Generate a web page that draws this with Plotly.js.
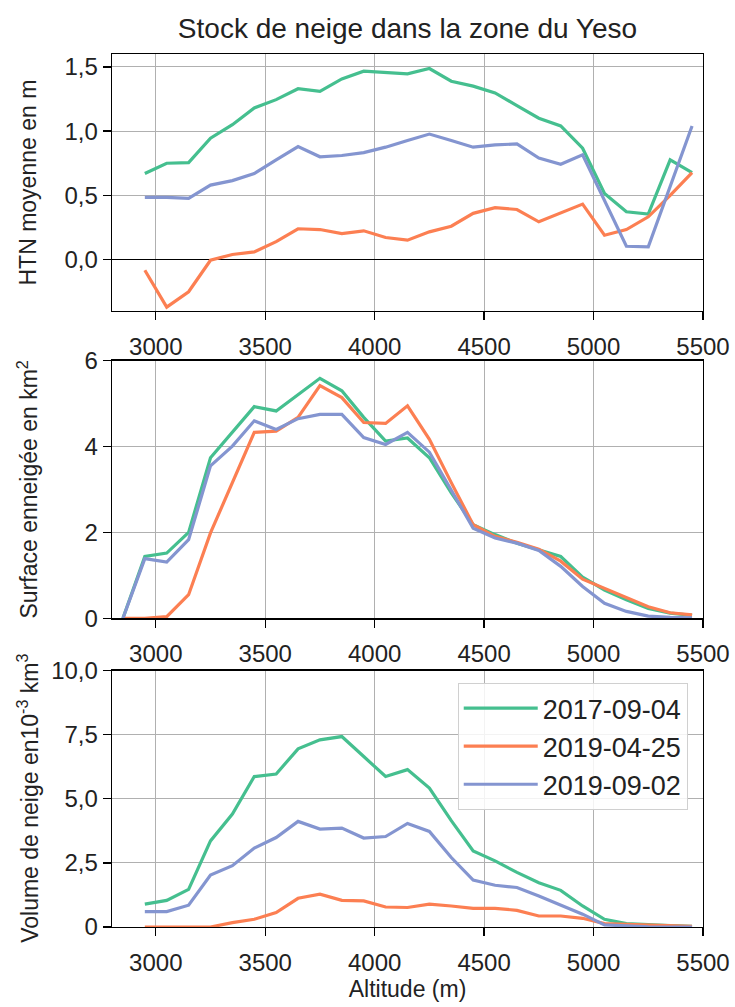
<!DOCTYPE html>
<html>
<head>
<meta charset="utf-8">
<script src="https://cdn.plot.ly/plotly-3.0.1.min.js"></script>
<style>html,body{margin:0;padding:0;background:#fff;}#chart{width:735px;height:1007px;}</style>
</head>
<body>
<div id="chart"></div>
<script>
// Altitudes (m)
const altitudes = [2950,3050,3150,3250,3350,3450,3550,3650,3750,3850,3950,4050,4150,4250,4350,4450,4550,4650,4750,4850,4950,5050,5150,5250,5350,5450];
const altitudesSurface = [2850,2950,3050,3150,3250,3350,3450,3550,3650,3750,3850,3950,4050,4150,4250,4350,4450,4550,4650,4750,4850,4950,5050,5150,5250,5350,5450];

const seriesNames = ["2017-09-04", "2019-04-25", "2019-09-02"];

// HTN moyenne (m)
const htn_2017_09_04 = [0.67,0.75,0.755,0.945,1.05,1.18,1.245,1.33,1.31,1.406,1.466,1.453,1.445,1.487,1.388,1.35,1.297,1.198,1.10,1.04,0.867,0.515,0.372,0.354,0.776,0.677];
const htn_2019_04_25 = [-0.083,-0.37,-0.25,-0.005,0.04,0.06,0.14,0.24,0.234,0.203,0.224,0.172,0.151,0.216,0.26,0.36,0.404,0.39,0.294,0.36,0.432,0.19,0.234,0.333,0.50,0.677];
const htn_2019_09_02 = [0.484,0.484,0.477,0.58,0.615,0.67,0.776,0.88,0.80,0.81,0.833,0.875,0.927,0.977,0.927,0.875,0.893,0.90,0.79,0.742,0.815,0.46,0.104,0.099,0.57,1.04];

// Surface enneigée (km²)
const surf_2017_09_04 = [0,1.44,1.52,2.0,3.74,4.33,4.93,4.83,5.2,5.59,5.30,4.68,4.13,4.2,3.74,2.92,2.18,1.95,1.75,1.6,1.44,0.96,0.66,0.43,0.23,0.12,0.07];
const surf_2019_04_25 = [0,0,0.04,0.55,1.99,3.16,4.33,4.36,4.68,5.42,5.14,4.56,4.54,4.95,4.17,3.16,2.18,1.91,1.77,1.61,1.33,0.91,0.70,0.47,0.27,0.13,0.08];
const surf_2019_09_02 = [0,1.39,1.31,1.83,3.55,4.01,4.60,4.40,4.65,4.75,4.75,4.21,4.05,4.33,3.87,3.0,2.10,1.87,1.75,1.58,1.21,0.74,0.35,0.16,0.05,0.02,0.01];

// Volume de neige (10^-3 km³)
const vol_2017_09_04 = [0.89,1.04,1.47,3.36,4.41,5.87,5.97,6.95,7.30,7.43,6.65,5.87,6.14,5.42,4.15,2.97,2.58,2.13,1.73,1.43,0.82,0.30,0.13,0.08,0.05,0.03];
const vol_2019_04_25 = [0,0,0,0,0.17,0.30,0.56,1.12,1.28,1.04,1.02,0.78,0.76,0.89,0.82,0.73,0.73,0.65,0.43,0.43,0.34,0.13,0.10,0.08,0.05,0.03];
const vol_2019_09_02 = [0.60,0.60,0.85,2.03,2.39,3.08,3.49,4.12,3.82,3.86,3.47,3.53,4.04,3.73,2.71,1.83,1.63,1.54,1.21,0.86,0.50,0.08,0.03,0.01,0,0];

const xTickVals = [3000,3500,4000,4500,5000,5500];
const volTickVals = [0,2.5,5,7.5,10];
const volTickText = ["0","2,5","5,0","7,5","10,0"];

const colors = ["#45bf8f", "#fc7f52", "#8495d0"];
const FONT = "Liberation Sans, Arial, Helvetica, sans-serif";

function line(x, y, i, xa, ya, showlegend) {
  return {
    x: x, y: y, type: "scatter", mode: "lines",
    name: seriesNames[i], legendgroup: seriesNames[i], showlegend: showlegend,
    line: {color: colors[i], width: 3.2},
    xaxis: xa, yaxis: ya
  };
}

const traces = [
  line(altitudes, htn_2017_09_04, 0, "x", "y", false),
  line(altitudes, htn_2019_04_25, 1, "x", "y", false),
  line(altitudes, htn_2019_09_02, 2, "x", "y", false),
  line(altitudesSurface, surf_2017_09_04, 0, "x2", "y2", false),
  line(altitudesSurface, surf_2019_04_25, 1, "x2", "y2", false),
  line(altitudesSurface, surf_2019_09_02, 2, "x2", "y2", false),
  line(altitudes, vol_2017_09_04, 0, "x3", "y3", true),
  line(altitudes, vol_2019_04_25, 1, "x3", "y3", true),
  line(altitudes, vol_2019_09_02, 2, "x3", "y3", true)
];

const tickFont = {family: FONT, size: 24, color: "#222"};
function xax(anchor) {
  return {
    anchor: anchor, range: [2800, 5500], tickvals: xTickVals,
    showgrid: true, gridcolor: "#b0b0b0", gridwidth: 1,
    showline: true, linecolor: "#000", linewidth: 1.3, mirror: true,
    ticks: "outside", ticklen: 8, tickwidth: 1.3, tickcolor: "#000",
    ticklabelstandoff: 6,
    tickfont: tickFont, zeroline: false
  };
}
function yax(anchor, domain) {
  return {
    anchor: anchor, domain: domain,
    showgrid: true, gridcolor: "#b0b0b0", gridwidth: 1,
    showline: true, linecolor: "#000", linewidth: 1.3, mirror: true,
    ticks: "outside", ticklen: 8, tickwidth: 1.3, tickcolor: "#000",
    tickfont: tickFont, zeroline: false
  };
}

const D1 = [0.7056, 1], D2 = [0.3536, 0.6487], D3 = [0, 0.2936];

const x1 = xax("y"), x2 = xax("y2"), x3 = xax("y3");
x3.title = {text: "Altitude (m)", font: {family: FONT, size: 23, color: "#222"}, standoff: 4};
const y1 = yax("x", D1);
y1.range = [-0.40, 1.60]; y1.dtick = 0.5; y1.tick0 = 0; y1.tickformat = ".1f";
y1.zeroline = true; y1.zerolinecolor = "#000"; y1.zerolinewidth = 1.6;
const y2 = yax("x2", D2);
y2.range = [0, 6]; y2.dtick = 2; y2.tick0 = 0;
const y3 = yax("x3", D3);
y3.range = [0, 10]; y3.tickvals = volTickVals; y3.ticktext = volTickText;

const ytitleFont = {family: FONT, size: 23, color: "#222"};
const ytitleX = (28 - 112) / 591;

const layout = {
  width: 735, height: 1007,
  margin: {l: 112, r: 32, t: 54, b: 80},
  paper_bgcolor: "#fff", plot_bgcolor: "#fff",
  separators: ",.",
  font: {family: FONT, color: "#222"},
  title: {
    text: "Stock de neige dans la zone du Yeso",
    font: {family: FONT, size: 28, color: "#222"},
    x: 0.5, xref: "paper", y: 1 - 28/1007, yref: "container", yanchor: "middle"
  },
  xaxis: x1, xaxis2: x2, xaxis3: x3,
  yaxis: y1, yaxis2: y2, yaxis3: y3,
  showlegend: true,
  legend: {
    x: 0.585, y: 0.2795, xanchor: "left", yanchor: "top",
    bgcolor: "rgba(255,255,255,0.85)", bordercolor: "#d0d0d0", borderwidth: 1,
    font: {family: FONT, size: 27, color: "#222"},
    itemwidth: 74, tracegroupgap: 0
  },
  annotations: [
    {text: "HTN moyenne en m", xref: "paper", yref: "paper", x: ytitleX, y: (D1[0] + D1[1]) / 2,
     textangle: -90, showarrow: false, xanchor: "center", yanchor: "middle", font: ytitleFont},
    {text: "Surface enneigée en km<sup>2</sup>", xref: "paper", yref: "paper", x: ytitleX, y: (D2[0] + D2[1]) / 2,
     textangle: -90, showarrow: false, xanchor: "center", yanchor: "middle", font: ytitleFont},
    {text: "Volume de neige en10<sup>-3</sup> km<sup>3</sup>", xref: "paper", yref: "paper", x: ytitleX, y: (D3[0] + D3[1]) / 2,
     textangle: -90, showarrow: false, xanchor: "center", yanchor: "middle", font: ytitleFont}
  ]
};

Plotly.newPlot("chart", traces, layout, {displayModeBar: false, staticPlot: true});
</script>
</body>
</html>
